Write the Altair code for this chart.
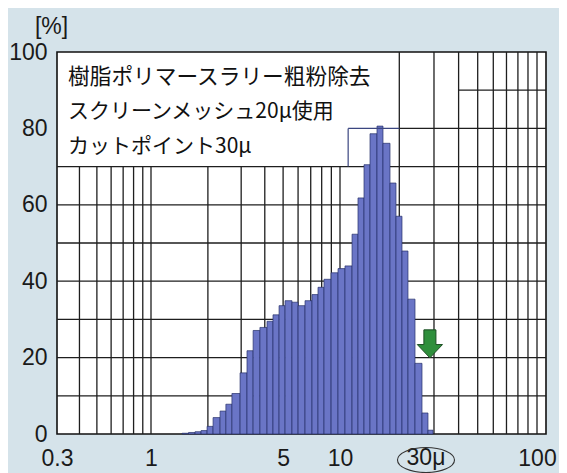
import altair as alt
import pandas as pd

# ---- data ----
bin_edges = [1.46, 1.58, 1.71, 1.84, 1.98, 2.13, 2.32, 2.49, 2.68, 2.96,
             3.22, 3.47, 3.77, 4.11, 4.42, 4.76, 5.12, 5.57, 6.00, 6.53,
             7.11, 7.65, 8.23, 8.97, 9.76, 10.60, 11.51, 12.34, 13.24, 14.20,
             15.41, 16.53, 17.94, 19.24, 20.64, 22.14, 24.03, 26.08, 27.97, 29.66]
pct = [0.2, 0.4, 0.6, 0.9, 2.0, 4.3, 6.0, 7.8, 10.6, 16.0,
       21.8, 27.1, 27.9, 29.5, 31.2, 33.6, 34.9, 34.5, 33.6, 34.9,
       36.5, 38.4, 40.5, 42.2, 43.3, 44.0, 52.3, 61.8, 70.5, 78.6,
       80.6, 76.1, 65.7, 57.0, 47.9, 35.3, 18.5, 5.5, 1.0]

x_tick_values = [0.3, 1, 5, 10, 100]
y_tick_values = [0, 20, 40, 60, 80, 100]
x_grid_low = [0.4, 0.5, 0.6, 0.7, 0.8, 0.9, 1, 2, 3, 4, 5, 6, 7, 8, 9, 10]
x_grid_high = [20, 30, 40, 50, 60, 70, 80, 90, 100]
y_grid_full = [10, 20, 30, 40, 50, 60, 70]
notes = ["樹脂ポリマースラリー粗粉除去", "スクリーンメッシュ20μ使用", "カットポイント30μ"]
cut_label = "30μ"

X_END = 111.1
bars = pd.DataFrame({"lo": bin_edges[:-1], "hi": bin_edges[1:], "pct": pct})
vgrid = pd.DataFrame({"v": x_grid_low + x_grid_high,
                      "top": [70] * len(x_grid_low) + [100] * len(x_grid_high)})
hgrid = pd.DataFrame({"h": y_grid_full + [80, 90],
                      "x0": [0.3] * len(y_grid_full) + [20, 40],
                      "x1": [X_END] * (len(y_grid_full) + 2)})
bracket = pd.DataFrame({"x0": [11, 11], "x1": [20, 11], "y0": [80, 70], "y1": [80, 80]})

xs = alt.Scale(type="log", domain=[0.3, 1, 10, 100, X_END],
               range=[0, 94, 283, 480, 489], nice=False)
ys = alt.Scale(domain=[0, 100], nice=False, zero=False)

NUM_FONT = "Liberation Sans"
JP_FONT = "Noto Sans CJK JP"
GRID = "#1e1e1e"
TXT = "#1a1a1a"

x_axis = alt.Axis(
    values=x_tick_values, format="~g", ticks=False, domain=False, grid=False,
    labelPadding=13, labelFontSize=23, labelFont=NUM_FONT, labelColor=TXT,
    labelFlush=False, labelOverlap=False, title=None)
y_axis = alt.Axis(
    values=y_tick_values, ticks=False, domain=False, grid=False,
    labelPadding=10, labelFontSize=23, labelFont=NUM_FONT, labelColor=TXT,
    title="[%]", titleAngle=0, titleX=-6, titleY=-26, titleAlign="center",
    titleBaseline="middle", titleFontSize=23, titleFont=NUM_FONT,
    titleFontWeight="normal", titleColor=TXT)

grid_v = alt.Chart(vgrid).mark_rule(color=GRID, strokeWidth=1.3).encode(
    x=alt.X("v:Q", scale=xs, axis=x_axis),
    y=alt.Y("top:Q", scale=ys, axis=y_axis),
    y2=alt.datum(0),
)
grid_h = alt.Chart(hgrid).mark_rule(color=GRID, strokeWidth=1.3).encode(
    x=alt.X("x0:Q", scale=xs, axis=x_axis),
    x2="x1:Q",
    y=alt.Y("h:Q", scale=ys, axis=y_axis),
)

bar_layer = alt.Chart(bars).mark_rect(
    fill="#6a75c6", stroke="#27306a", strokeWidth=0.7
).encode(
    x=alt.X("lo:Q", scale=xs, axis=x_axis),
    x2="hi:Q",
    y=alt.Y("pct:Q", scale=ys, axis=y_axis),
    y2=alt.datum(0),
)

bracket_layer = alt.Chart(bracket).mark_rule(color="#3b4680", strokeWidth=1.2).encode(
    x=alt.X("x0:Q", scale=xs, axis=x_axis), x2="x1:Q",
    y=alt.Y("y0:Q", scale=ys, axis=y_axis), y2="y1:Q",
)

arrow_path = "M-0.43,-1 L0.43,-1 L0.43,0.05 L0.9,0.05 L0,1 L-0.9,0.05 L-0.43,0.05 Z"
arrow = alt.Chart(pd.DataFrame({"a": [0]})).mark_point(
    shape=arrow_path, size=784, filled=True, fill="#2f8f3c", stroke="#1b4d22",
    strokeWidth=1, opacity=1
).encode(x=alt.datum(28.6), y=alt.datum(23.6))

note_layers = []
for i, t in enumerate(notes):
    note_layers.append(
        alt.Chart(pd.DataFrame({"t": [t]})).mark_text(
            align="left", baseline="middle", font=JP_FONT,
            fontSize=[21.7, 21, 21][i], color="#111"
        ).encode(x=alt.value(11), y=alt.value([25, 60, 95][i]), text="t:N")
    )

cut_text = alt.Chart(pd.DataFrame({"t": [cut_label]})).mark_text(
    align="center", baseline="middle", font=NUM_FONT, fontSize=23, color=TXT,
    xOffset=-8
).encode(x=alt.datum(30), y=alt.value(406), text="t:N")

ellipse_path = "M-1,0 A1,0.44 0 1,0 1,0 A1,0.44 0 1,0 -1,0 Z"
cut_ring = alt.Chart(pd.DataFrame({"a": [0]})).mark_point(
    shape=ellipse_path, size=3249, filled=False, stroke="#333", strokeWidth=1.1,
    opacity=1, xOffset=-8
).encode(x=alt.datum(30), y=alt.value(408))

chart = alt.layer(
    grid_v, grid_h, bar_layer, bracket_layer, arrow, *note_layers, cut_text, cut_ring
).properties(
    width=489, height=382,
    padding={"left": 49, "top": 44, "right": 13, "bottom": 39},
    autosize=alt.AutoSizeParams(type="none"),
    background="#d5e3ea",
).configure_view(
    fill="white", stroke="#111", strokeWidth=1.6
)

chart.save("out.html", embed_options={"renderer": "svg", "actions": False})
